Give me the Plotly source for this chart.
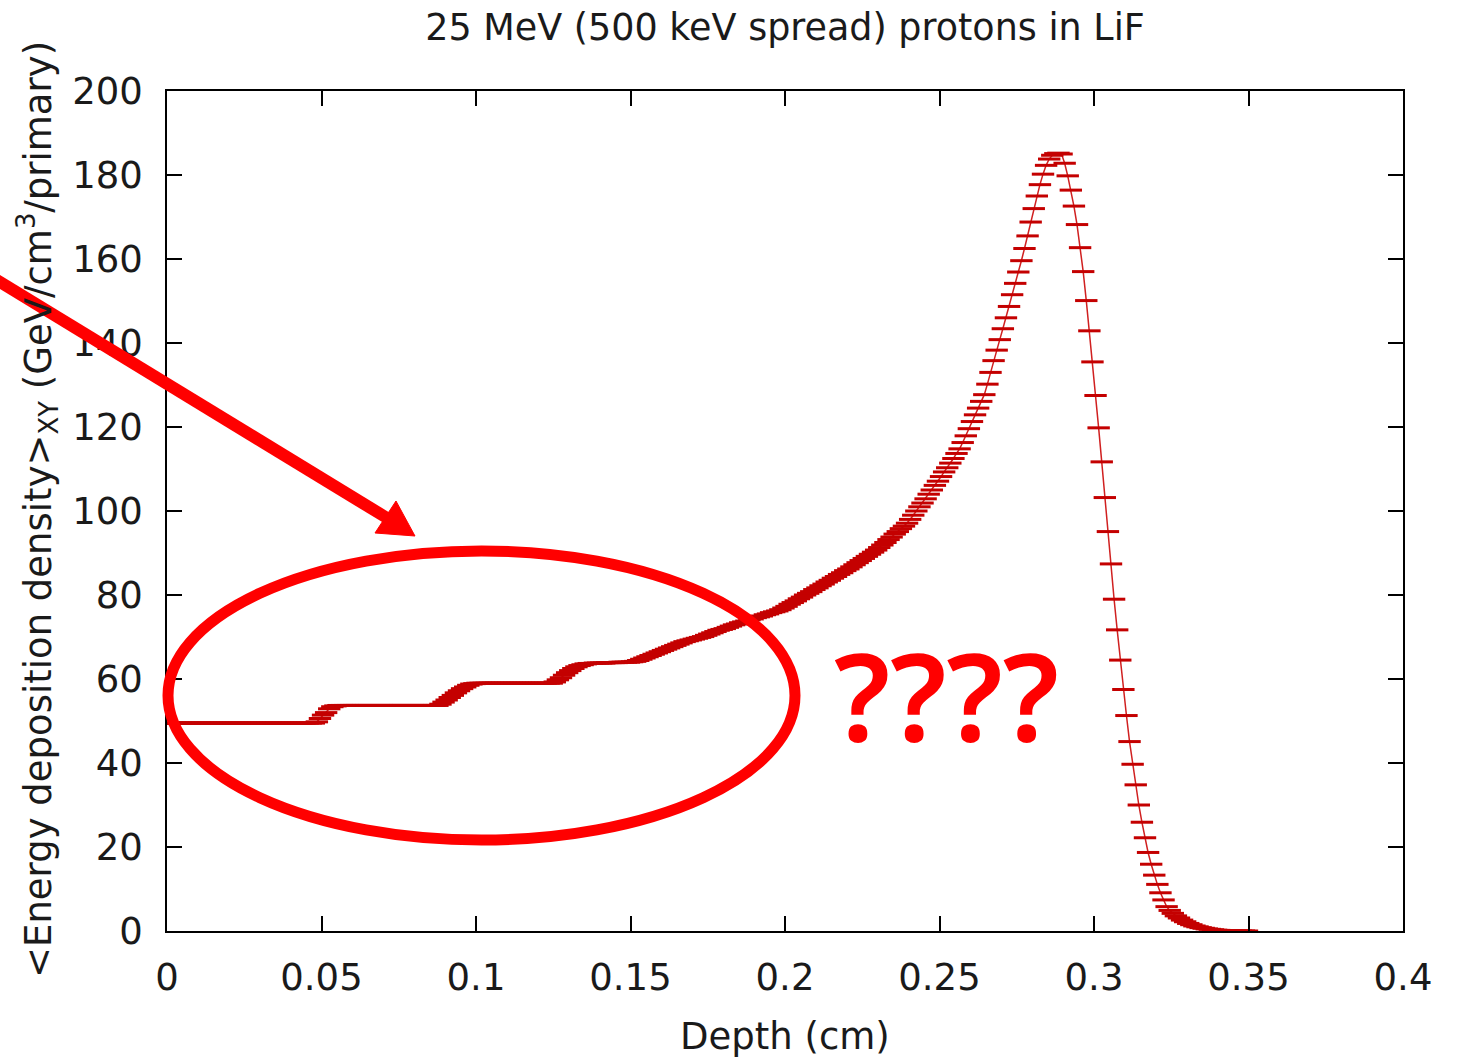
import plotly.graph_objects as go

# ---------------- data ----------------
bin_width_cm = 0.001  # depth bins of the scoring mesh

edep = [
    # 0.0005 - 0.0475 cm : first plateau
    49.4, 49.5, 49.5, 49.5, 49.5, 49.5, 49.5, 49.5, 49.5, 49.5,
    49.5, 49.5, 49.5, 49.5, 49.5, 49.5, 49.5, 49.5, 49.5, 49.5,
    49.5, 49.5, 49.5, 49.5, 49.5, 49.5, 49.5, 49.5, 49.5, 49.5,
    49.5, 49.5, 49.5, 49.5, 49.5, 49.5, 49.5, 49.5, 49.5, 49.5,
    49.5, 49.5, 49.5, 49.5, 49.5, 49.5, 49.5, 49.5,
    # step 1
    49.8, 50.6, 51.4, 52.0, 52.9, 53.4, 53.6,
    # second plateau (33 bins)
    53.7, 53.7, 53.7, 53.7, 53.7, 53.7, 53.7, 53.7, 53.7, 53.7,
    53.7, 53.7, 53.7, 53.7, 53.7, 53.7, 53.7, 53.7, 53.7, 53.7,
    53.7, 53.7, 53.7, 53.7, 53.7, 53.7, 53.7, 53.7, 53.7, 53.7,
    53.7, 53.7, 53.7,
    # step 2
    54.0, 54.5, 55.0, 55.6, 56.1, 56.7, 57.2, 57.7, 58.1, 58.5,
    58.8, 58.9, 59.0,
    # third plateau (24 bins)
    59.0, 59.0, 59.0, 59.0, 59.0, 59.0, 59.0, 59.0, 59.0, 59.0,
    59.0, 59.0, 59.0, 59.0, 59.0, 59.0, 59.0, 59.0, 59.0, 59.0,
    59.0, 59.0, 59.0, 59.0,
    # step 3
    59.3, 59.8, 60.3, 60.9, 61.5, 62.0, 62.5, 62.9, 63.2, 63.4,
    63.6, 63.7, 63.7,
    # fourth plateau
    63.8, 63.8, 63.8, 63.8, 63.9, 63.9, 63.9, 63.9, 64.0, 64.0,
    64.0, 64.0, 64.1,
    # smooth rise
    64.2, 64.4, 64.7, 65.0, 65.3, 65.6, 65.9, 66.2, 66.5, 66.8,
    67.1, 67.4, 67.7, 68.0, 68.3, 68.6, 68.9, 69.1, 69.3, 69.5,
    69.7, 69.9, 70.1, 70.4, 70.7, 71.0, 71.3, 71.6, 71.8, 72.0,
    72.3, 72.6, 72.9, 73.1, 73.4,
    73.6, 73.8, 74.1, 74.3, 74.6, 74.8, 75.0, 75.3, 75.5, 75.8,
    76.0, 76.2, 76.5,
    76.9, 77.3, 77.8, 78.2, 78.6, 79.1, 79.5, 80.0, 80.4, 80.8, 81.3,
    81.7, 82.2, 82.6, 83.1, 83.5, 84.0, 84.4, 84.9, 85.3, 85.8, 86.2,
    86.7, 87.2, 87.7, 88.2, 88.7, 89.2, 89.7, 90.2, 90.7, 91.3,
    91.9, 92.5, 93.2, 93.8, 94.5, 95.1, 95.8, 96.4, 97.1,
    98.0, 99.0, 100.0, 101.0, 101.9, 102.9,
    104.0, 105.0, 106.1, 107.1, 108.2, 109.3,
    110.3, 111.4, 112.5, 113.7, 114.8,
    116.3, 117.9, 119.6, 121.3,
    122.9, 124.5, 126.1, 127.7,
    # Bragg peak
    130.2, 133.0, 135.8, 138.3, 140.8, 143.4, 146.0, 148.7, 151.5, 154.2,
    156.9, 159.6, 162.5, 165.5, 168.8, 172.0, 175.0, 177.7, 180.2, 182.3,
    183.8, 184.7, 185.1, 185.2, 185.0,
    # distal fall-off
    182.8, 179.8, 176.4, 172.6, 168.2, 162.7, 157.0, 150.1, 142.9, 135.5,
    127.5, 119.8, 111.7, 103.2, 95.1, 87.4, 79.0, 71.7, 64.5, 57.5,
    51.3, 45.1, 39.7, 34.8, 30.0, 25.9, 22.2, 18.7, 15.9, 13.3,
    11.1, 9.1, 7.4, 5.8,
    4.9, 4.2, 3.6, 3.1, 2.6, 2.2, 1.8, 1.5, 1.2, 1.0,
    0.8, 0.65, 0.5, 0.4, 0.3, 0.2, 0.15, 0.1, 0.07, 0.05,
    0.03, 0.02, 0.02, 0.01, 0.01, 0.0,
]
depth_cm = [round(bin_width_cm * (i + 0.5), 4) for i in range(len(edep))]

x_ticks = [0, 0.05, 0.1, 0.15, 0.2, 0.25, 0.3, 0.35, 0.4]
y_ticks = [0, 20, 40, 60, 80, 100, 120, 140, 160, 180, 200]

title_text = "25 MeV (500 keV spread) protons in LiF"
x_title = "Depth (cm)"
y_title = "&lt;Energy deposition density&gt;<sub>XY</sub> (GeV/cm<sup>3</sup>/primary)"
note_text = "????"

# ---------------- layout geometry ----------------
W, H = 1458, 1060
L, R, T, B = 167, 55, 91, 129
PW, PH = W - L - R, H - T - B


def px(xp):
    return (xp - L) / PW


def py(yp):
    return (H - B - yp) / PH


FONT = "DejaVu Sans"
TXT = "#1a1a1a"
FS = 37

fig = go.Figure()
fig.add_trace(go.Scatter(
    x=depth_cm, y=edep, mode="lines+markers",
    line=dict(color="#d02020", width=1.5),
    marker=dict(symbol="line-ew", size=16, line=dict(color="#c40000", width=3)),
    showlegend=False, hoverinfo="x+y",
))

axis_common = dict(
    showline=True, linecolor="black", linewidth=1.5, mirror="ticks",
    ticks="inside", ticklen=15, tickwidth=1.5, tickcolor="black",
    showgrid=False, zeroline=False,
    tickfont=dict(family=FONT, size=FS, color=TXT),
)

fig.update_xaxes(range=[0, 0.4], tickvals=x_ticks,
                 ticktext=[("%g" % v) for v in x_ticks],
                 ticklabelstandoff=13, **axis_common)
fig.update_yaxes(range=[0, 200], tickvals=y_ticks,
                 ticklabelstandoff=15, **axis_common)

red = "#ff0000"
shapes = [
    dict(type="circle", xref="paper", yref="paper",
         x0=px(168), x1=px(795), y0=py(840), y1=py(551),
         line=dict(color=red, width=11), layer="above"),
    dict(type="line", xref="paper", yref="paper",
         x0=px(-20), y0=py(269.8), x1=px(387), y1=py(518),
         line=dict(color=red, width=12), layer="above"),
    dict(type="path", xref="paper", yref="paper",
         path="M %f %f L %f %f L %f %f Z" % (px(415), py(536), px(396), py(501), px(375), py(533)),
         fillcolor=red, line=dict(color=red, width=1), layer="above"),
]

annotations = [
    dict(text=note_text, xref="paper", yref="paper", x=px(946), y=py(694),
         xanchor="center", yanchor="middle", showarrow=False,
         font=dict(family="Noto Sans", size=122, color=red, weight=600)),
    dict(text=x_title, xref="paper", yref="paper", x=px(785), y=py(1036),
         xanchor="center", yanchor="middle", showarrow=False,
         font=dict(family=FONT, size=FS, color=TXT)),
    dict(text=y_title, xref="paper", yref="paper", x=px(37), y=py(510),
         xanchor="center", yanchor="middle", showarrow=False, textangle=-90,
         font=dict(family=FONT, size=FS, color=TXT)),
]

fig.update_layout(
    width=W, height=H,
    margin=dict(l=L, r=R, t=T, b=B, autoexpand=False),
    paper_bgcolor="white", plot_bgcolor="white",
    title=dict(text=title_text, x=px(785), xref="paper", xanchor="center",
               y=1 - 27 / H, yanchor="middle",
               font=dict(family=FONT, size=36.5, color=TXT)),
    shapes=shapes, annotations=annotations, showlegend=False,
)

fig.write_html("out.html")
